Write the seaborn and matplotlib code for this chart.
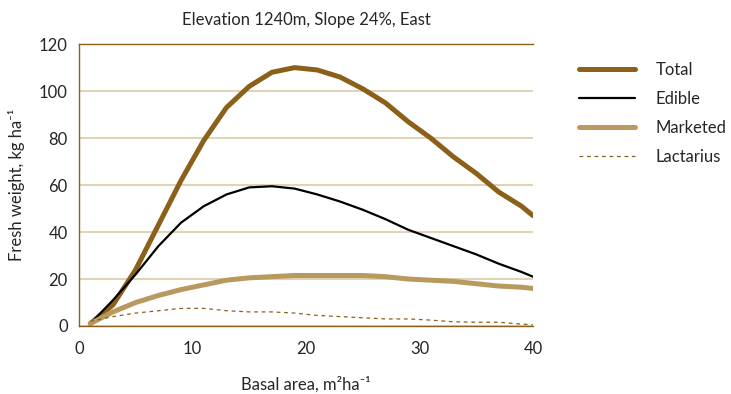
import seaborn as sns
import matplotlib.pyplot as plt
import pandas as pd
import numpy as np

basal_area = [1, 3, 5, 7, 9, 11, 13, 15, 17, 19, 21, 23, 25, 27, 29, 31, 33, 35, 37, 39, 40]
total = [1, 9, 24, 43, 62, 79, 93, 102, 108, 110, 109, 106, 101, 95, 87, 80, 72, 65, 57, 51, 47]
edible = [1, 11, 22, 34, 44, 51, 56, 59, 59.5, 58.5, 56, 53, 49.5, 45.5, 41, 37.5, 34, 30.5, 26.5, 23, 21]
marketed = [1, 6, 10, 13, 15.5, 17.5, 19.5, 20.5, 21, 21.5, 21.5, 21.5, 21.5, 21, 20, 19.5, 19, 18, 17, 16.5, 16]
lactarius = [2, 4, 5.5, 6.5, 7.5, 7.5, 6.5, 6, 6, 5.5, 4.5, 4, 3.5, 3, 3, 2.5, 1.8, 1.6, 1.6, 0.8, 0.5]

gold = '#8B6119'
light = '#B89A5E'
grid = '#DCCCA6'

sns.set_style('white')
plt.rcParams['font.family'] = ['Lato', 'DejaVu Sans']

fig = plt.figure(figsize=(7.31, 3.94), dpi=100)
ax = fig.add_axes([0.108, 0.1726, 0.621, 0.7154])

series = [('Total', total, gold, 3.6, '-'),
          ('Edible', edible, 'black', 1.6, '-'),
          ('Marketed', marketed, light, 3.6, '-'),
          ('Lactarius', lactarius, gold, 0.9, (0, (3, 3)))]

for name, vals, col, lw, ls in series:
    df = pd.DataFrame({'x': basal_area, 'y': vals})
    sns.lineplot(data=df, x='x', y='y', ax=ax, color=col, linewidth=lw,
                 linestyle=ls, label=name, solid_capstyle='round')

ax.set_xlim(0, 40)
ax.set_ylim(0, 120)
ax.set_xticks([0, 10, 20, 30, 40])
ax.set_yticks(np.arange(0, 121, 20))
ax.yaxis.grid(True, color=grid, linewidth=1.2)
ax.set_axisbelow(True)
ax.spines['right'].set_visible(False)
for s in ['left', 'bottom', 'top']:
    ax.spines[s].set_color(gold)
    ax.spines[s].set_linewidth(1.0)
ax.tick_params(axis='x', direction='out', length=6, color=gold, width=1,
               labelsize=12, pad=5)
ax.tick_params(axis='y', length=0, labelsize=12, pad=8)

ax.set_title('Elevation 1240m, Slope 24%, East', fontsize=12, pad=14)
ax.set_xlabel('Basal area, m²ha⁻¹', fontsize=12, labelpad=14)
ax.set_ylabel('Fresh weight, kg ha⁻¹', fontsize=12, labelpad=10)

ax.legend(loc='upper left', bbox_to_anchor=(1.068, 0.99), frameon=False,
          fontsize=12, handlelength=3.4, handletextpad=1.2, labelspacing=0.78)

fig.savefig('out.png', dpi=100)
